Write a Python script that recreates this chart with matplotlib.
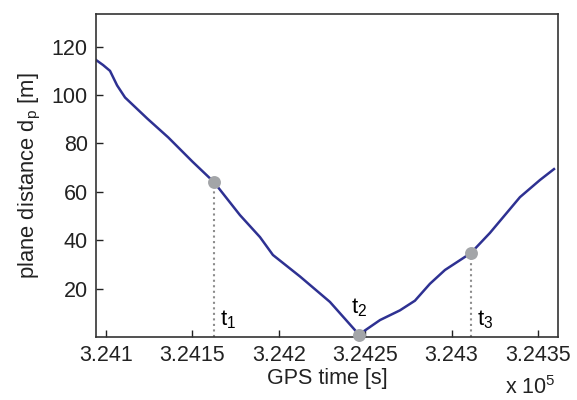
import numpy as np
import matplotlib.pyplot as plt

plt.rcParams['font.family'] = ['Liberation Sans', 'DejaVu Sans']

# distance to the plane over GPS time
gps_time = [324094.2, 324098.3, 324102.3, 324106.4, 324111.0, 324124.0,
            324136.0, 324150.0, 324162.5, 324177.5, 324189.1, 324196.6,
            324212.3, 324229.6, 324246.4, 324258.6, 324270.1, 324278.8,
            324287.5, 324296.2, 324311.2, 324322.2, 324330.9, 324339.6,
            324351.2, 324359.3]
plane_dist = [114.5, 112.4, 110.0, 104.0, 99.0, 90.2,
              82.5, 72.5, 64.0, 50.4, 41.3, 33.9,
              25.0, 14.5, 1.0, 7.0, 11.0, 15.0,
              22.0, 27.7, 34.7, 43.0, 50.4, 57.8,
              64.9, 69.4]

# marked instants t1, t2, t3
mark_time = [324162.5, 324246.4, 324311.2]
mark_dist = [64.0, 1.0, 34.7]
mark_names = ['t$_\\mathregular{1}$', 't$_\\mathregular{2}$', 't$_\\mathregular{3}$']

fig = plt.figure(figsize=(5.77, 4.0), dpi=100)
ax = fig.add_axes([0.1664, 0.1575, 0.8006, 0.8075])

for t, d in zip(mark_time, mark_dist):
    ax.plot([t, t], [0, d], ls=':', color='#8c8c8c', lw=1.5, zorder=1)

ax.plot(gps_time, plane_dist, color='#2e3192', lw=1.8, zorder=2)
ax.plot(mark_time, mark_dist, 'o', color='#a3a5a8', ms=9.3, mec='none',
        zorder=3, clip_on=False)

# labels next to the markers
ax.text(mark_time[0] + 3.5, 7, mark_names[0], fontsize=16, ha='left', va='center')
ax.text(mark_time[1], 12, mark_names[1], fontsize=16, ha='center', va='center')
ax.text(mark_time[2] + 3.5, 7, mark_names[2], fontsize=16, ha='left', va='center')

ax.set_xlim(324094.2, 324361.6)
ax.set_ylim(0, 133.5)
ax.set_xticks([324100, 324150, 324200, 324250, 324300, 324350])
ax.set_xticklabels(['3.241', '3.2415', '3.242', '3.2425', '3.243', '3.2435'])
ax.set_yticks([20, 40, 60, 80, 100, 120])
ax.tick_params(direction='in', length=5, labelsize=15.5, width=1, colors='#222222',
               pad=6)
for s in ax.spines.values():
    s.set_linewidth(1.2)
    s.set_color('#333333')

ax.set_xlabel('GPS time [s]', fontsize=15.5, labelpad=1, color='#222222')
ax.set_ylabel('plane distance d$_\\mathregular{p}$ [m]', fontsize=15.8,
              labelpad=6, color='#222222')
fig.text(0.875, 0.015, 'x 10$^\\mathregular{5}$', fontsize=15.5, color='#222222')

fig.savefig('out.png', dpi=100)
